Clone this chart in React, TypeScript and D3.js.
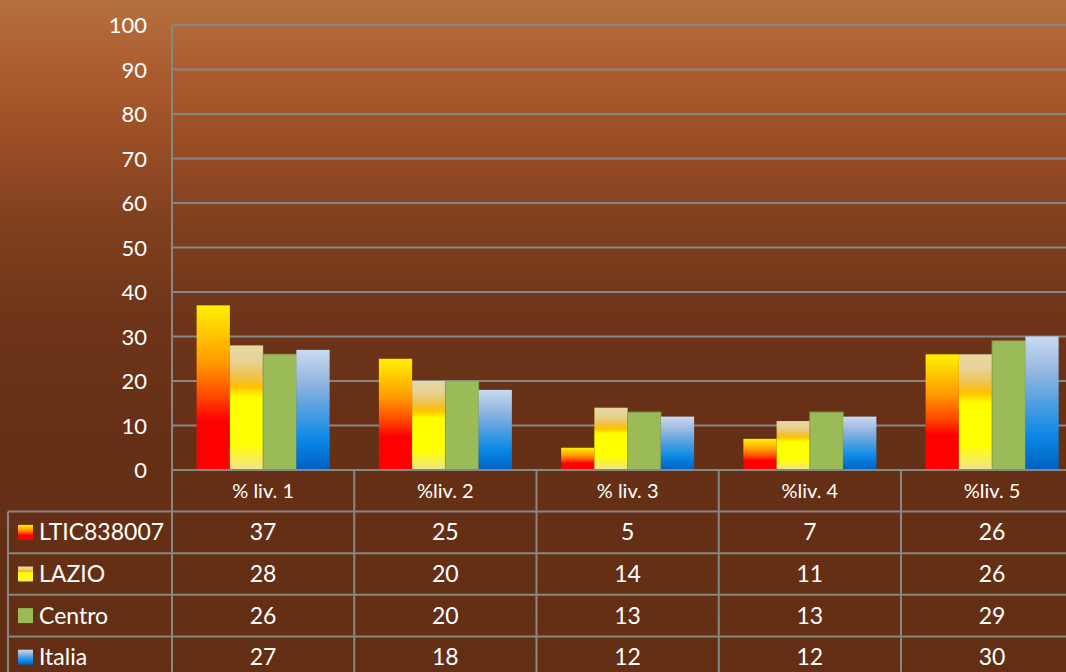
import React from "react";
import * as d3 from "d3";

const categories = ["% liv. 1", "%liv. 2", "% liv. 3", "%liv. 4", "%liv. 5"];
const seriesNames = ["LTIC838007", "LAZIO", "Centro", "Italia"];
const ltic = [37, 25, 5, 7, 26];
const lazio = [28, 20, 14, 11, 26];
const centro = [26, 20, 13, 13, 29];
const italia = [27, 18, 12, 12, 30];
const yTicks = [0, 10, 20, 30, 40, 50, 60, 70, 80, 90, 100];

const seriesValues = [ltic, lazio, centro, italia];
const gradIds = ["g-ltic", "g-lazio", "g-centro", "g-italia"];

const W = 1066;
const H = 672;
const plotLeft = 172;
const catW = 182.25;
const plotTop = 25;
const plotBottom = 470;
const rowH = 41.6;
const tableLeft = 8;
const groupW = 133;
const font = "Lato, 'Open Sans', sans-serif";
const gridColor = "#878787";

export default function App() {
  const x0 = d3
    .scaleBand<string>()
    .domain(categories)
    .range([plotLeft, plotLeft + catW * categories.length])
    .padding(0);
  const x1 = d3.scaleBand<string>().domain(seriesNames).range([0, groupW]).padding(0);
  const y = d3.scaleLinear().domain([0, 100]).range([plotBottom, plotTop]);
  const groupOffset = (x0.bandwidth() - groupW) / 2;
  const tableRight = plotLeft + catW * categories.length;

  const rowTops = seriesNames.map((_, i) => plotBottom + rowH * (i + 1));

  return (
    <svg
      width={W}
      height={H}
      style={{ position: "absolute", left: 0, top: 0, display: "block" }}
      fontFamily={font}
    >
      <defs>
        <linearGradient id="bg" x1="0" y1="0" x2="0" y2="1">
          <stop offset="0" stopColor="#b4703f" />
          <stop offset="0.12" stopColor="#aa5a2d" />
          <stop offset="0.2" stopColor="#9c4f26" />
          <stop offset="0.33" stopColor="#80401e" />
          <stop offset="0.48" stopColor="#6d3419" />
          <stop offset="0.65" stopColor="#663016" />
          <stop offset="1" stopColor="#632e14" />
        </linearGradient>
        <linearGradient id="g-ltic" x1="0" y1="0" x2="0" y2="1">
          <stop offset="0" stopColor="#fff000" />
          <stop offset="0.15" stopColor="#ffcc00" />
          <stop offset="0.35" stopColor="#ff9900" />
          <stop offset="0.55" stopColor="#ff4a00" />
          <stop offset="0.7" stopColor="#ff0000" />
          <stop offset="1" stopColor="#ff0000" />
        </linearGradient>
        <linearGradient id="g-lazio" x1="0" y1="0" x2="0" y2="1">
          <stop offset="0" stopColor="#e6d9a0" />
          <stop offset="0.12" stopColor="#e6d398" />
          <stop offset="0.25" stopColor="#f0c24a" />
          <stop offset="0.33" stopColor="#ffc000" />
          <stop offset="0.42" stopColor="#ffff00" />
          <stop offset="0.78" stopColor="#ffff00" />
          <stop offset="1" stopColor="#efe38c" />
        </linearGradient>
        <linearGradient id="g-centro" x1="0" y1="0" x2="0" y2="1">
          <stop offset="0" stopColor="#9bbb59" />
          <stop offset="1" stopColor="#9bbb59" />
        </linearGradient>
        <linearGradient id="g-italia" x1="0" y1="0" x2="0" y2="1">
          <stop offset="0" stopColor="#c8daf2" />
          <stop offset="0.25" stopColor="#98b8e0" />
          <stop offset="0.5" stopColor="#4f9fe0" />
          <stop offset="0.75" stopColor="#0a88e6" />
          <stop offset="1" stopColor="#0060c0" />
        </linearGradient>
      </defs>

      <rect x={0} y={0} width={W} height={H} fill="url(#bg)" />

      {/* gridlines */}
      {yTicks.map((t) => (
        <line
          key={"g" + t}
          x1={plotLeft}
          x2={W}
          y1={y(t)}
          y2={y(t)}
          stroke={gridColor}
          strokeWidth={2}
        />
      ))}

      {/* y tick labels */}
      {yTicks.map((t) => (
        <text
          key={"t" + t}
          x={147}
          y={y(t) + 8}
          textAnchor="end"
          fill="#ffffff"
          fontSize={22}
        >
          {t}
        </text>
      ))}

      {/* bars */}
      {categories.map((c, ci) =>
        seriesNames.map((s, si) => {
          const v = seriesValues[si][ci];
          const bx = (x0(c) as number) + groupOffset + (x1(s) as number);
          return (
            <rect
              key={c + s}
              x={bx}
              y={y(v)}
              width={x1.bandwidth()}
              height={y(0) - y(v)}
              fill={`url(#${gradIds[si]})`}
              stroke={si === 2 ? "#86a34c" : "none"}
              strokeWidth={si === 2 ? 1 : 0}
            />
          );
        })
      )}

      {/* table horizontal lines */}
      {rowTops.map((ry, i) => (
        <line
          key={"h" + i}
          x1={tableLeft}
          x2={tableRight}
          y1={ry}
          y2={ry}
          stroke={gridColor}
          strokeWidth={2}
        />
      ))}
      <line x1={plotLeft} x2={W} y1={plotBottom} y2={plotBottom} stroke={gridColor} strokeWidth={2} />

      {/* table vertical lines */}
      <line x1={plotLeft} x2={plotLeft} y1={plotTop} y2={H} stroke={gridColor} strokeWidth={2} />
      <line x1={tableLeft} x2={tableLeft} y1={rowTops[0]} y2={H} stroke={gridColor} strokeWidth={2} />
      {categories.map((c, ci) => (
        <line
          key={"v" + ci}
          x1={(x0(c) as number) + x0.bandwidth()}
          x2={(x0(c) as number) + x0.bandwidth()}
          y1={plotBottom}
          y2={H}
          stroke={gridColor}
          strokeWidth={2}
        />
      ))}

      {/* header labels */}
      {categories.map((c) => (
        <text
          key={"hdr" + c}
          x={(x0(c) as number) + x0.bandwidth() / 2}
          y={plotBottom + rowH / 2 + 7}
          textAnchor="middle"
          fill="#ffffff"
          fontSize={20}
        >
          {c}
        </text>
      ))}

      {/* rows */}
      {seriesNames.map((s, si) => {
        const cy = rowTops[si] + rowH / 2;
        return (
          <g key={"row" + s}>
            <rect x={18} y={cy - 7.5} width={15} height={15} fill={`url(#${gradIds[si]})`} />
            <text x={39} y={cy + 8} fill="#ffffff" fontSize={23}>
              {s}
            </text>
            {categories.map((c, ci) => (
              <text
                key={"cell" + s + c}
                x={(x0(c) as number) + x0.bandwidth() / 2}
                y={cy + 8}
                textAnchor="middle"
                fill="#ffffff"
                fontSize={23}
              >
                {seriesValues[si][ci]}
              </text>
            ))}
          </g>
        );
      })}
    </svg>
  );
}
